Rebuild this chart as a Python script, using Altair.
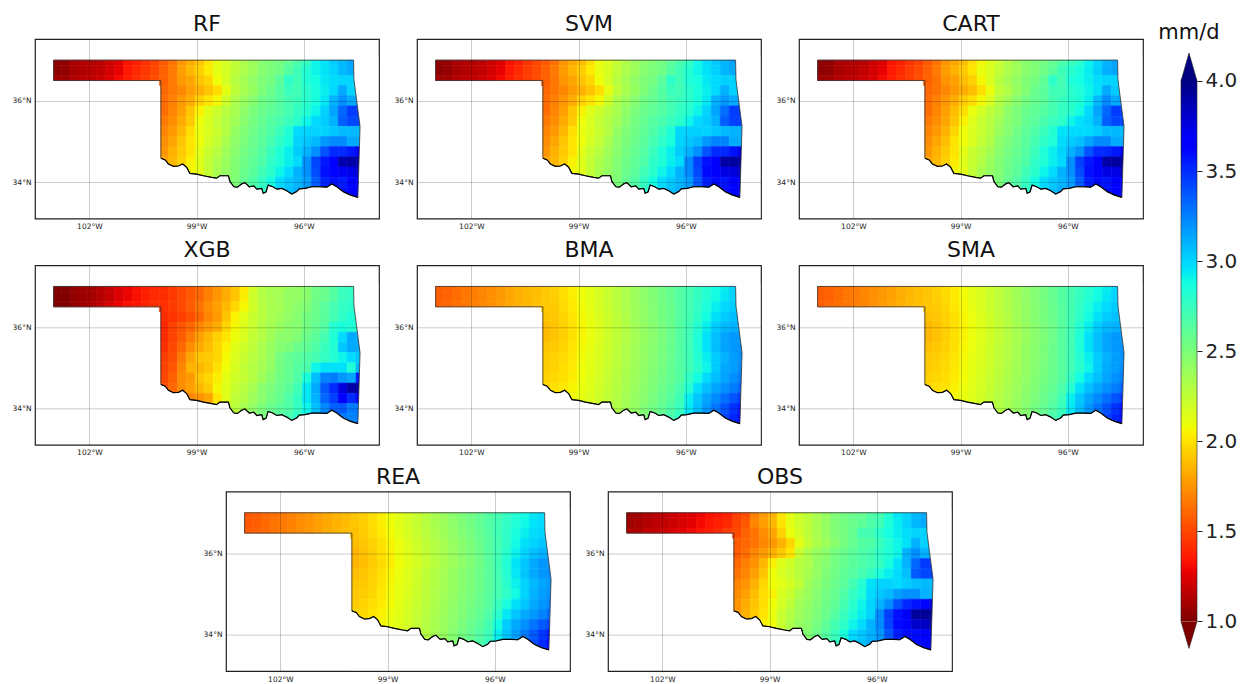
import altair as alt
import pandas as pd

# Gridded mean precipitation (hundredths of mm/d). Rows run north to south, columns west to east.
# First three rows span the panhandle (35 values); the rest start at 100.04W (23 values).
RF = [
[103,105,110,113,113,115,120,124,133,137,142,148,155,164,175,182,190,200,212,218,225,232,238,246,249,252,259,268,276,290,295,302,308,314,314],
[103,105,110,113,115,117,122,127,135,140,145,150,158,166,178,186,194,203,212,218,225,232,238,246,250,254,264,272,282,290,295,300,308,312,312],
[108,108,113,115,117,120,124,130,137,142,146,152,158,166,176,180,190,196,208,218,228,235,242,248,252,262,278,272,284,287,294,297,300,300,300],
[160,166,170,178,184,190,198,212,226,233,240,249,256,264,274,272,280,286,292,298,312,300,300],
[162,168,176,182,194,200,206,220,232,239,246,254,258,264,270,274,280,286,294,310,320,312,312],
[162,170,178,190,204,214,220,228,234,243,250,256,260,264,270,276,282,290,300,314,332,345,345],
[166,172,182,192,208,216,224,230,236,245,252,258,264,268,274,280,290,298,302,310,335,342,342],
[170,176,186,198,210,216,222,229,241,248,254,260,266,274,284,298,300,300,300,304,308,308,308],
[172,180,190,200,208,218,224,233,243,250,256,262,270,278,286,300,304,308,318,322,322,312,312],
[175,184,192,200,212,222,228,237,245,252,258,264,274,284,292,302,310,320,338,350,350,356,372],
[180,186,194,204,214,224,232,239,247,254,260,266,278,284,292,298,320,342,356,365,388,390,390],
[182,188,196,206,212,224,234,241,247,256,262,272,280,290,298,310,320,340,358,362,370,373,383],
[184,190,198,206,216,226,236,243,249,258,266,276,288,298,304,309,316,335,352,358,355,362,366],
[184,190,198,206,216,226,236,243,249,260,268,278,290,300,306,312,318,335,352,358,358,363,368],
]
SVM = [
[104,106,110,113,114,116,120,125,133,137,143,149,155,163,174,181,188,198,210,216,223,231,238,244,248,252,260,268,277,289,297,303,309,315,315],
[104,106,110,113,115,117,122,127,135,140,146,151,158,166,177,185,193,202,211,217,225,232,238,246,250,254,264,272,282,290,296,301,309,313,313],
[108,109,113,115,117,120,124,130,137,142,146,152,158,165,175,180,190,196,208,218,228,235,242,248,252,262,278,272,284,287,294,298,301,301,301],
[160,165,170,177,184,190,198,211,225,233,240,249,256,264,274,272,280,286,292,298,310,301,301],
[162,168,175,182,194,200,206,220,232,239,246,254,258,264,270,274,280,286,294,310,318,312,312],
[162,170,178,190,204,214,220,228,234,243,250,256,260,264,270,276,282,290,300,314,330,345,345],
[166,172,182,192,208,216,224,230,236,245,252,258,264,268,274,280,290,298,302,310,335,344,344],
[170,176,186,198,210,216,222,229,241,248,254,260,266,274,284,299,301,301,300,304,308,310,310],
[172,180,190,200,208,218,224,233,243,250,256,262,270,278,286,300,304,308,318,324,324,312,312],
[175,184,192,200,212,222,228,237,245,252,258,264,274,284,292,302,310,320,338,350,351,358,375],
[180,186,194,204,214,224,232,239,247,254,260,266,278,284,292,298,322,344,358,367,390,392,392],
[182,188,196,206,212,224,234,241,247,256,262,272,280,290,298,310,322,341,360,364,374,376,386],
[184,190,198,206,216,226,236,243,249,258,266,276,288,298,304,309,316,337,354,360,357,363,368],
[184,190,198,206,216,226,236,243,249,260,268,278,290,300,306,312,318,337,354,360,360,365,370],
]
CART = [
[103,104,110,112,113,115,120,124,133,137,143,148,155,163,174,180,188,198,206,214,222,230,238,244,248,252,258,266,274,280,291,300,309,314,314],
[103,105,110,113,115,117,122,127,135,140,146,151,158,166,177,184,192,200,210,216,224,232,238,244,248,254,262,272,280,286,293,301,311,314,314],
[108,109,113,115,117,120,124,130,137,142,146,152,158,164,174,178,188,194,206,216,228,235,242,248,252,260,278,270,284,287,292,297,300,300,300],
[160,164,170,176,182,188,198,210,224,231,240,247,256,262,272,272,280,284,290,296,312,303,303],
[162,168,175,182,192,198,206,216,230,237,246,252,258,262,270,274,280,284,292,308,322,312,312],
[162,170,178,188,198,210,218,226,232,243,250,256,260,264,270,276,280,288,298,314,332,345,345],
[166,172,180,190,204,214,222,228,236,245,250,258,262,268,274,278,290,296,300,310,335,342,342],
[170,176,184,196,208,216,222,229,239,246,254,260,266,274,282,296,298,298,298,302,308,308,308],
[172,180,188,200,208,216,224,231,243,250,256,262,270,278,284,298,302,306,314,322,322,312,312],
[175,184,192,200,212,222,228,235,245,252,258,264,274,284,292,300,310,319,338,350,351,356,372],
[180,186,194,202,214,222,230,239,247,254,260,266,278,284,292,298,320,344,356,367,390,392,392],
[182,188,196,206,212,224,234,241,247,256,262,272,280,290,298,310,320,340,358,365,374,374,386],
[184,190,198,206,216,226,236,243,249,258,266,276,288,298,304,309,316,335,354,360,357,363,368],
[184,190,198,206,216,226,236,243,249,260,268,278,290,300,306,312,318,335,354,360,360,365,370],
]
XGB = [
[100,100,105,108,110,114,118,124,128,132,137,140,141,145,150,155,160,168,175,182,190,202,218,229,234,234,240,240,245,254,256,264,274,277,277],
[100,100,105,108,110,114,118,124,128,132,137,140,141,145,150,155,160,168,175,182,190,203,220,229,234,236,241,241,245,254,256,264,274,277,277],
[100,100,105,108,112,116,122,128,132,134,138,142,142,146,150,156,164,172,178,186,196,206,219,228,233,235,240,244,248,256,262,270,276,280,280],
[141,143,147,152,160,170,176,190,204,213,222,228,233,237,242,246,252,256,262,270,278,284,284],
[140,148,154,160,170,176,182,196,206,215,222,230,235,240,244,246,252,258,264,282,286,284,284],
[140,148,156,166,178,186,194,200,209,216,224,230,236,244,244,248,256,262,270,284,298,312,312],
[142,150,160,172,182,188,196,204,213,220,226,233,240,246,250,256,260,266,274,282,304,312,312],
[146,152,166,180,190,192,196,206,215,222,228,233,240,252,258,262,266,270,276,282,290,298,304],
[148,154,170,184,186,190,199,208,217,224,230,235,242,252,258,264,268,290,296,296,296,284,310],
[150,158,172,176,190,196,203,212,219,224,230,237,246,254,258,266,286,306,324,326,318,314,356],
[152,160,172,178,186,192,206,214,222,228,235,245,250,256,262,272,294,312,336,350,376,390,393],
[148,158,165,170,174,180,200,214,225,230,238,245,252,258,266,276,294,310,332,344,363,350,370],
[148,158,165,172,180,192,208,218,227,234,242,250,256,262,266,276,290,306,322,334,336,326,328],
[148,158,165,172,180,192,210,220,229,236,244,252,258,264,270,278,290,304,316,324,326,324,328],
]
BMA = [
[157,158,162,164,167,170,172,176,180,183,186,188,191,193,198,203,208,212,217,222,227,232,238,243,248,253,258,264,270,276,282,288,293,300,300],
[157,159,162,165,167,170,173,176,180,183,186,188,191,193,198,203,208,212,217,222,227,232,238,243,248,253,258,264,270,276,282,288,294,300,300],
[158,160,163,165,168,171,173,177,181,183,186,189,191,192,197,202,207,212,217,222,227,232,237,242,247,252,257,264,270,277,285,292,298,302,302],
[190,191,195,200,206,211,216,221,226,231,237,242,247,252,257,264,270,278,288,296,302,306,306],
[187,190,194,199,205,210,215,220,225,230,236,241,246,251,256,264,272,282,292,302,308,310,310],
[187,190,194,199,205,210,215,220,225,230,235,240,245,250,256,264,272,284,296,306,314,318,318],
[190,192,195,200,206,211,216,221,226,231,236,241,246,251,257,264,272,284,296,306,314,318,320],
[192,194,197,201,207,212,216,221,226,231,236,241,246,251,257,264,272,282,292,302,310,316,320],
[193,195,198,202,208,212,217,222,227,232,237,242,247,252,258,264,272,280,290,302,312,316,322],
[195,197,199,203,208,213,218,223,228,233,238,243,248,253,258,264,276,288,298,306,314,320,326],
[197,199,201,205,210,214,219,224,229,234,239,244,249,255,260,268,282,296,306,314,320,326,334],
[199,201,203,207,211,215,220,225,230,235,240,245,251,257,263,272,292,304,314,322,330,338,346],
[200,202,205,208,212,216,221,226,231,236,241,247,253,259,266,275,294,306,318,328,338,348,358],
[201,203,206,209,213,217,222,227,232,237,242,248,254,260,268,277,296,308,320,330,342,352,362],
]
SMA = [
[156,158,161,164,167,170,172,175,179,182,185,188,190,193,197,202,207,212,216,221,226,231,237,242,247,252,258,263,269,275,281,288,293,300,300],
[156,158,162,165,167,170,173,176,179,182,186,188,190,193,197,202,207,212,216,221,226,231,237,242,247,252,258,264,270,276,282,288,294,300,300],
[158,160,163,165,168,170,173,177,180,183,186,189,190,192,196,201,206,211,216,221,226,231,236,241,246,251,257,263,270,277,285,292,298,302,302],
[189,190,194,199,205,210,215,220,225,230,236,241,246,251,256,263,270,278,288,296,302,306,306],
[186,189,193,198,204,209,214,219,224,229,235,240,245,250,255,263,271,282,292,302,308,310,310],
[186,189,193,198,204,209,214,219,224,229,234,239,244,249,255,263,271,284,296,306,314,318,318],
[189,191,194,199,205,210,215,220,225,230,235,240,245,250,256,263,271,284,296,306,314,318,320],
[191,193,196,200,206,211,215,220,225,230,235,240,245,250,256,263,271,282,292,302,310,316,320],
[192,194,197,201,207,211,216,221,226,231,236,241,246,251,257,263,271,280,290,302,312,316,322],
[194,196,198,202,207,212,217,222,227,232,237,242,247,252,257,263,275,288,298,306,314,320,326],
[196,198,200,204,209,213,218,223,228,233,238,243,248,254,259,267,282,296,306,314,320,326,334],
[198,200,202,206,210,214,219,224,229,234,239,244,250,256,262,271,292,304,314,322,330,338,346],
[199,201,204,207,211,215,220,225,230,235,240,246,252,258,265,274,294,306,318,328,338,348,358],
[200,202,205,208,212,216,221,226,231,236,241,247,253,259,267,276,296,308,320,330,342,352,362],
]
REA = [
[155,157,160,163,166,169,172,175,178,181,184,187,190,193,198,203,208,213,218,223,228,233,239,244,249,254,259,264,270,276,282,288,294,298,298],
[155,157,161,164,166,169,172,175,178,181,184,187,190,193,198,203,208,213,218,223,228,233,238,243,248,253,259,265,271,277,283,289,295,298,298],
[156,158,161,164,167,170,172,176,179,182,185,188,189,192,197,202,207,212,217,222,227,232,237,242,247,252,258,264,271,278,286,292,297,300,300],
[188,190,194,199,205,210,215,220,225,230,235,240,245,250,256,263,270,278,288,296,300,304,304],
[185,189,193,198,204,209,214,219,224,229,234,239,244,249,255,263,271,281,291,300,306,310,310],
[185,188,192,197,203,208,213,218,223,228,233,238,243,248,254,262,271,283,295,304,312,318,318],
[188,190,194,199,205,210,215,220,225,230,235,240,245,250,255,262,271,282,294,304,312,318,320],
[190,192,195,200,206,211,215,220,225,230,235,240,245,250,255,262,270,280,291,300,308,314,318],
[191,193,196,201,207,211,216,221,226,231,236,241,246,251,256,263,270,278,288,300,310,316,320],
[193,195,198,202,207,212,217,222,227,232,237,242,247,252,257,263,274,286,296,304,312,318,324],
[195,197,200,204,209,213,218,223,228,233,238,243,248,254,259,266,280,294,304,312,318,324,332],
[197,199,202,206,210,214,219,224,229,234,239,244,250,256,262,270,288,302,312,320,328,336,344],
[198,200,204,207,211,215,220,225,230,235,240,246,252,258,265,273,292,304,316,326,336,346,356],
[199,201,205,208,212,216,221,226,231,236,241,247,253,259,267,275,294,306,318,328,340,350,360],
]
OBS = [
[108,108,112,114,116,120,122,124,128,132,134,137,146,152,168,176,184,200,212,220,226,234,240,248,252,256,258,266,270,284,295,300,308,312,312],
[108,110,113,115,117,120,123,126,130,134,137,140,148,155,170,178,186,200,212,220,226,234,240,248,252,256,260,266,272,284,293,300,308,312,312],
[112,112,116,118,120,124,127,130,133,136,140,146,150,158,164,172,180,194,210,218,226,234,240,248,252,258,270,270,280,287,292,297,300,300,300],
[156,160,164,170,176,184,196,212,224,232,238,245,252,258,264,266,274,282,290,296,310,301,301],
[156,162,170,176,184,192,200,222,232,240,244,252,256,262,266,270,278,284,290,310,320,310,310],
[160,168,174,186,204,214,220,228,232,241,246,252,258,262,266,270,276,286,296,310,332,346,346],
[164,170,178,190,208,216,222,228,234,241,248,254,260,264,270,276,286,292,298,306,336,342,342],
[170,174,184,196,208,212,218,225,237,244,250,256,262,270,282,296,300,300,298,302,306,308,308],
[172,178,188,198,204,216,222,232,239,246,252,258,266,276,284,298,304,308,316,320,320,310,310],
[174,182,190,198,208,218,226,236,241,248,254,260,270,280,290,300,310,321,339,351,357,362,375],
[176,184,192,200,210,222,230,238,243,250,256,264,274,284,292,300,322,344,358,369,392,394,394],
[178,186,194,204,208,222,232,240,245,252,260,270,278,290,298,310,322,343,360,365,380,382,390],
[180,188,196,204,214,224,234,242,247,256,264,274,286,298,304,310,318,337,354,360,359,365,370],
[180,188,196,204,214,224,234,242,247,258,266,276,288,300,306,312,320,337,354,360,360,365,370],
]
PANELS = [[("RF", RF), ("SVM", SVM), ("CART", CART)],
          [("XGB", XGB), ("BMA", BMA), ("SMA", SMA)],
          [("REA", REA), ("OBS", OBS)]]

# Red River / southern border, then the eastern border (lon, lat)
SOUTH_LON = [-100.0,-99.88,-99.79,-99.65,-99.51,-99.39,-99.28,-99.19,-99.0,-98.81,-98.58,-98.44,-98.35,-98.11,-98.07,-97.96,-97.86,-97.74,-97.65,-97.53,-97.40,-97.32,-97.18,-97.14,-97.06,-97.0,-96.87,-96.76,-96.62,-96.48,-96.34,-96.20,-96.13,-95.97,-95.78,-95.55,-95.36,-95.22,-95.08,-94.90,-94.71,-94.49]
SOUTH_LAT = [34.59,34.55,34.45,34.39,34.40,34.45,34.37,34.22,34.20,34.16,34.12,34.10,34.16,34.16,34.02,33.89,33.88,33.96,33.99,33.89,33.91,33.83,33.85,33.73,33.76,33.93,33.89,33.83,33.85,33.79,33.71,33.77,33.84,33.85,33.89,33.89,33.88,33.96,33.89,33.77,33.69,33.63]
EAST_LON = [-94.49,-94.43,-94.60,-94.61]
EAST_LAT = [33.63,35.37,36.52,37.0]
NORTH_LAT = 37.0
PAN_LAT = 36.5
WEST_LON = -103.0
STEP_LON = -100.0

X_DOMAIN = [-103.52, -93.90]
Y_DOMAIN = [33.11, 37.52]
X_TICKS = [-102, -99, -96]
Y_TICKS = [34, 36]
LON0 = -103.04
LAT0 = 37.125
CELL = 0.25

CB_TICKS = [1.0, 1.5, 2.0, 2.5, 3.0, 3.5, 4.0]
CB_DOMAIN = [0.722, 4.233]
CB_TOP_TIP = 4.155
CB_BOT_TIP = 0.85

COLOR = alt.Scale(domain=[1.0,1.27,1.33,2.02,2.05,2.08,2.875,2.95,2.98,3.625,3.67,4.0],
                  range=["#800000","#e80000","#ff1300","#ffea00","#f7f600","#eeff08","#14ffe2","#00e5f7","#00dbff","#0000ff","#0000ff","#000080"],
                  interpolate="rgb", clamp=True)
FONT = "DejaVu Sans"
W, H = 344, 179.5
TITLE_OFF = 3
ROW_SPACING = 7.3
SPACER_W = 153


def cells(rows):
    out = []
    for j, row in enumerate(rows):
        offset = 0 if len(row) == 35 else 12
        for k, v in enumerate(row):
            i = k + offset
            x0 = max(LON0 + CELL * i, WEST_LON)
            if j >= 3 and i == 12:
                x0 = STEP_LON
            x1 = LON0 + CELL * (i + 1)
            y1 = min(LAT0 - CELL * j, NORTH_LAT)
            y0 = LAT0 - CELL * (j + 1)
            if i < 12:
                y0 = max(y0, PAN_LAT)
            out.append({"x": x0, "x2": x1, "y": y0, "y2": y1, "v": v / 100})
    return pd.DataFrame(out)


south = pd.DataFrame({"lon": [STEP_LON - 0.05] + SOUTH_LON, "lat": [SOUTH_LAT[0]] + SOUTH_LAT, "bottom": Y_DOMAIN[0] + 0.02})
south_line = pd.DataFrame({"lon": SOUTH_LON, "lat": SOUTH_LAT})
east = pd.DataFrame({"lat": [Y_DOMAIN[0] + 0.02] + EAST_LAT + [NORTH_LAT + 0.08],
                     "lon": [EAST_LON[0]] + EAST_LON + [EAST_LON[-1]],
                     "right": X_DOMAIN[1] - 0.02})
blon = [WEST_LON] + EAST_LON[::-1] + SOUTH_LON[::-1] + [STEP_LON, WEST_LON, WEST_LON]
blat = [NORTH_LAT] + EAST_LAT[::-1] + SOUTH_LAT[::-1] + [PAN_LAT, PAN_LAT, NORTH_LAT]
border = pd.DataFrame({"lon": blon, "lat": blat, "i": range(len(blon))})

XS = alt.Scale(domain=X_DOMAIN, nice=False, zero=False)
YS = alt.Scale(domain=Y_DOMAIN, nice=False, zero=False)
AXIS = dict(grid=True, gridColor="#000000", gridOpacity=0.2, gridWidth=1, ticks=False, domain=False,
            labelFontSize=7.5, labelFont=FONT, labelColor="#222222", labelPadding=4, title=None, zindex=1)


def panel(name, rows):
    grid = alt.Chart(cells(rows)).mark_rect(strokeWidth=0.6).encode(
        x=alt.X("x:Q", scale=XS, axis=alt.Axis(values=X_TICKS, labelExpr="abs(datum.value)+'°W'", labelAngle=0, **AXIS)),
        x2="x2:Q",
        y=alt.Y("y:Q", scale=YS, axis=alt.Axis(values=Y_TICKS, labelExpr="datum.value+'°N'", **AXIS)),
        y2="y2:Q",
        color=alt.Color("v:Q", scale=COLOR, legend=None),
        stroke=alt.Stroke("v:Q", scale=COLOR, legend=None),
    )
    mask_s = alt.Chart(south).mark_area(color="white").encode(
        x=alt.X("lon:Q", scale=XS), y=alt.Y("lat:Q", scale=YS), y2="bottom:Q")
    mask_e = alt.Chart(east).mark_area(color="white", orient="horizontal").encode(
        y=alt.Y("lat:Q", scale=YS), x=alt.X("lon:Q", scale=XS), x2="right:Q")
    line = alt.Chart(border).mark_line(color="#333333", strokeWidth=0.8).encode(
        x=alt.X("lon:Q", scale=XS), y=alt.Y("lat:Q", scale=YS), order="i:Q")
    coast = alt.Chart(south_line).mark_line(color="#000000", strokeWidth=1.2).encode(
        x=alt.X("lon:Q", scale=XS), y=alt.Y("lat:Q", scale=YS))
    return alt.layer(grid, mask_s, mask_e, line, coast).properties(
        width=W, height=H,
        title=alt.TitleParams(name, fontSize=22, font=FONT, fontWeight="normal", offset=TITLE_OFF, color="#111111"),
        view=alt.ViewConfig(stroke="#222222", strokeWidth=1.2),
    )


def spacer():
    return alt.Chart(pd.DataFrame({"a": [0]})).mark_point(opacity=0).encode(
        x=alt.X("a:Q", axis=None), y=alt.Y("a:Q", axis=None)
    ).properties(width=SPACER_W, height=H, view=alt.ViewConfig(stroke=None))


# Colour bar
levels = [100 + n for n in range(0, 300)]
ramp = pd.DataFrame({"v": [l / 100 for l in levels], "v2": [(l + 2) / 100 for l in levels], "a": 0, "b": 1})
CBX = alt.Scale(domain=[0, 1], nice=False, zero=False)
CBY = alt.Scale(domain=CB_DOMAIN, nice=False, zero=False)
bar = alt.Chart(ramp).mark_rect().encode(
    x=alt.X("a:Q", scale=CBX, axis=None), x2="b:Q",
    y=alt.Y("v:Q", scale=CBY, axis=alt.Axis(orient="right", values=CB_TICKS, format=".1f", domain=False, grid=False,
                                            tickSize=5, tickColor="#222222", labelFontSize=20, labelFont=FONT,
                                            labelColor="#222222", labelPadding=3, title=None)),
    y2="v2:Q",
    color=alt.Color("v:Q", scale=COLOR, legend=None),
)
top_tip = alt.Chart(pd.DataFrame({"y": [4.0, CB_TOP_TIP], "a": [0, 0.5], "b": [1, 0.5]})).mark_area(
    color="#000080", orient="horizontal").encode(
    y=alt.Y("y:Q", scale=CBY), x=alt.X("a:Q", scale=CBX), x2="b:Q")
bot_tip = alt.Chart(pd.DataFrame({"y": [CB_BOT_TIP, 1.0], "a": [0.5, 0], "b": [0.5, 1]})).mark_area(
    color="#800000", orient="horizontal").encode(
    y=alt.Y("y:Q", scale=CBY), x=alt.X("a:Q", scale=CBX), x2="b:Q")
outline_x = [0.5, 0, 0, 0.5, 1, 1, 0.5]
outline_y = [CB_BOT_TIP, 1.0, 4.0, CB_TOP_TIP, 4.0, 1.0, CB_BOT_TIP]
outline = alt.Chart(pd.DataFrame({"x": outline_x, "y": outline_y, "i": range(7)})).mark_line(
    color="#222222", strokeWidth=0.6).encode(
    x=alt.X("x:Q", scale=CBX), y=alt.Y("y:Q", scale=CBY), order="i:Q")
colorbar = alt.layer(bar, top_tip, bot_tip, outline).properties(
    width=16, height=3 * H + 2 * 47,
    title=alt.TitleParams("mm/d", fontSize=21, font=FONT, fontWeight="normal", offset=-4, color="#111111"),
    view=alt.ViewConfig(stroke=None),
)

row1 = alt.hconcat(*[panel(n, r) for n, r in PANELS[0]], spacing=38, bounds="flush")
row2 = alt.hconcat(*[panel(n, r) for n, r in PANELS[1]], spacing=38, bounds="flush")
row3 = alt.hconcat(spacer(), *[panel(n, r) for n, r in PANELS[2]], spacing=38, bounds="flush")
left = alt.vconcat(row1, row2, row3, spacing=ROW_SPACING)
chart = alt.hconcat(left, colorbar, spacing=14).properties(
    padding={"left": 3, "top": 4, "right": 0, "bottom": 0}, background="white"
)
chart.save("out.html", embed_options={"renderer": "svg", "actions": False})
